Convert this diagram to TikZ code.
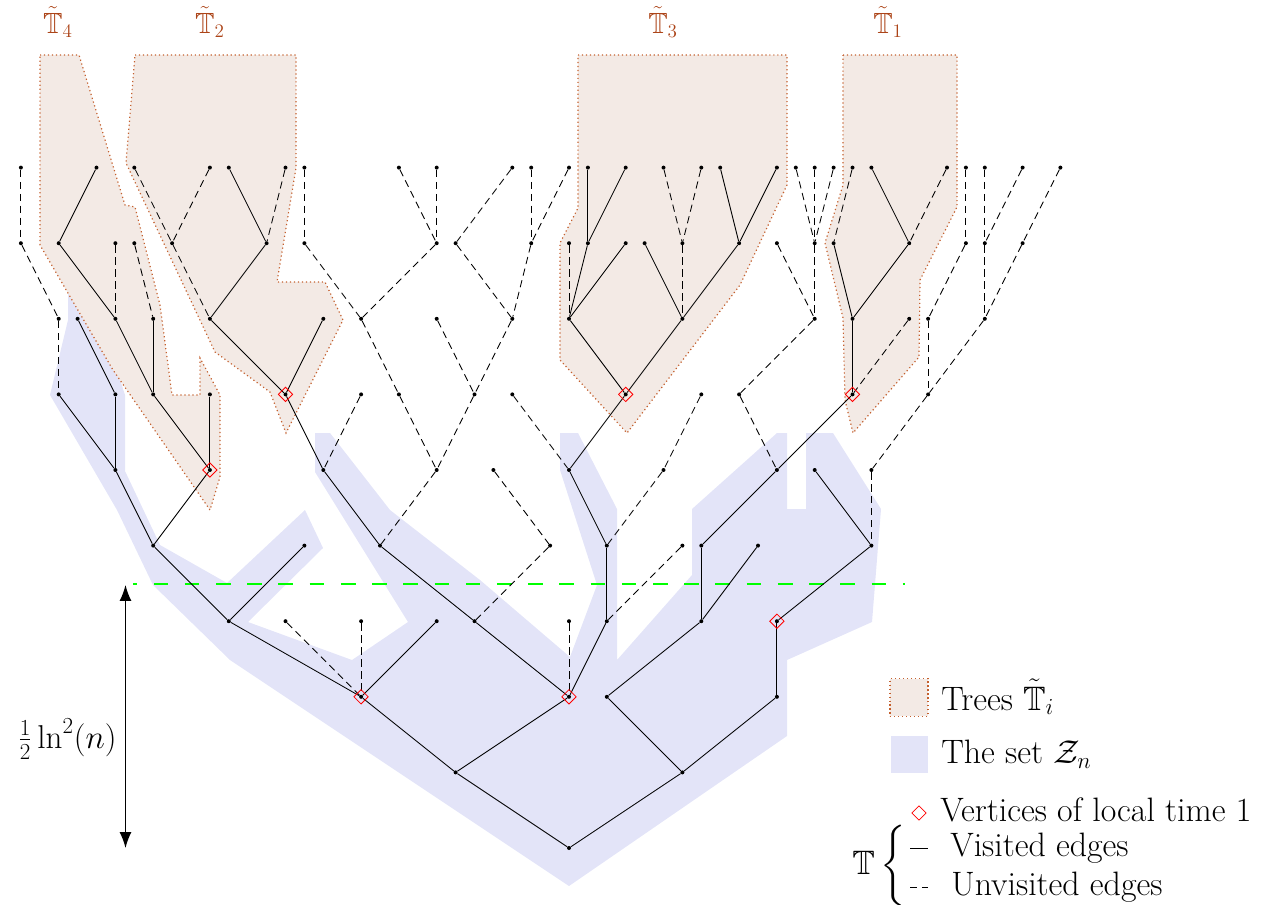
\documentclass[tikz,border=0pt]{standalone}
\usepackage{amssymb}
\usetikzlibrary{arrows.meta, shapes.geometric}
\definecolor{treeline}{RGB}{196,96,46}
\definecolor{treefill}{RGB}{243,234,229}
\definecolor{treetext}{RGB}{172,68,24}
\definecolor{zfill}{RGB}{227,228,248}
\tikzset{
    vx/.style={circle, fill, inner sep=0pt, minimum size=3pt}, % vertices of the tree
    once/.style={diamond, draw=red, inner sep=0pt, minimum size=11pt, line width=0.6pt}, % local time 1
    seen/.style={line width=0.65pt},
    unseen/.style={line width=0.65pt, dash pattern=on 5.5pt off 3.5pt},
    subtree/.style={fill=treefill, draw=treeline, line width=0.9pt, dash pattern=on 0.9pt off 2.1pt},
    zset/.style={fill=zfill},
    cut/.style={green, line width=0.9pt, dash pattern=on 11pt off 12.5pt, dash phase=8pt},
    tname/.style={text=treetext, font=\fontsize{22}{26}\selectfont, anchor=base},
    legend/.style={font=\fontsize{25.5}{30}\selectfont, anchor=base west, inner sep=0pt}
}

\begin{document}
\begin{tikzpicture}[x=0.0264583cm, y=-0.0264583cm]
    \useasboundingbox (0,0) rectangle (1270,904);

    % the set Z_n
    \fill[zset] (569,886) -- (787,736) -- (787,660) -- (872,622) -- (881,509) -- (833,433)
        -- (806,433) -- (806,509) -- (787,509) -- (787,433) -- (777,433) -- (692,509)
        -- (692,575) -- (617,660) -- (617,509) -- (578,433) -- (560,433) -- (560,470)
        -- (597,585) -- (570,657) -- (480,580) -- (390,510) -- (330,433) -- (315,433)
        -- (315,472) -- (408,622) -- (352,660) -- (248,622) -- (323,548) -- (305,510)
        -- (227,583) -- (160,545) -- (125,471) -- (125,395) -- (85,270) -- (68,270)
        -- (68,320) -- (50,395) -- (117,510) -- (153,585) -- (230,660) -- cycle;

    % the trees T_i
    \draw[subtree] (40,55) -- (79,55) -- (125,205) -- (135,207) -- (160,305) -- (172,395)
        -- (200,395) -- (200,358) -- (220,395) -- (220,477) -- (210,510) -- (113,370)
        -- (72,300) -- (40,245) -- cycle;
    \draw[subtree] (135,55) -- (296,55) -- (296,168) -- (277,282) -- (325,282) -- (343,320)
        -- (286,433) -- (270,392) -- (215,352) -- (126,163) -- cycle;
    \draw[subtree] (578,55) -- (787,55) -- (787,185) -- (740,285) -- (627,433) -- (560,360)
        -- (560,243) -- (578,208) -- cycle;
    \draw[subtree] (843,55) -- (957,55) -- (957,207) -- (920,280) -- (919,357) -- (853,433)
        -- (845,400) -- (843,318) -- (825,243) -- (843,185) -- cycle;

    \node[tname] (lab4) at (58,33) {$\tilde{\mathbb{T}}_4$};
    \node[tname] (lab2) at (210,33) {$\tilde{\mathbb{T}}_2$};
    \node[tname] (lab3) at (663,33) {$\tilde{\mathbb{T}}_3$};
    \node[tname] (lab1) at (888,33) {$\tilde{\mathbb{T}}_1$};

    \coordinate (cutl) at (133,584);
    \coordinate (cutr) at (905,584);
    \draw[cut] (cutl) -- (cutr);

    % vertices, level by level
    \foreach \l/\us in {0/{0}, 1/{-6,6}, 2/{-11,0,2,11},
        3/{-18,-15,-11,-7,-5,0,2,7,11},
        4/{-22,-14,-10,-1,2,6,7,10,16},
        5/{-24,-19,-13,-7,-4,0,5,11,13,16},
        6/{-27,-24,-22,-19,-15,-11,-9,-5,-3,3,7,9,15,19},
        7/{-27,-26,-24,-22,-19,-13,-11,-7,-3,0,6,13,15,18,19,22},
        8/{-29,-27,-24,-23,-21,-16,-14,-7,-6,-2,0,1,3,4,6,9,11,13,14,18,21,22,24},
        9/{-29,-25,-23,-19,-18,-15,-14,-9,-7,-3,-2,0,1,3,5,7,8,11,12,13,14,15,16,20,21,22,24,26}}
        \foreach \u in \us
            \node[vx] (v\l x\u) at ({569+18.9*\u},{848-75.6*\l}) {};

    % visited edges
    \foreach \a/\b in {1x-6/0x0, 1x6/0x0, 2x-11/1x-6, 2x0/1x-6, 2x2/1x6, 2x11/1x6,
        3x-18/2x-11, 3x-7/2x-11, 3x-5/2x0, 3x2/2x0, 3x7/2x2, 3x11/2x11,
        4x-22/3x-18, 4x-14/3x-18, 4x-10/3x-5, 4x2/3x2, 4x7/3x7, 4x10/3x7, 4x16/3x11,
        5x-24/4x-22, 5x-19/4x-22, 5x-13/4x-10, 5x0/4x2, 5x11/4x7, 5x13/4x16,
        6x-27/5x-24, 6x-24/5x-24, 6x-22/5x-19, 6x-19/5x-19, 6x-15/5x-13, 6x3/5x0, 6x15/5x11,
        7x-26/6x-24, 7x-24/6x-22, 7x-22/6x-22, 7x-19/6x-15, 7x-13/6x-15, 7x0/6x3, 7x6/6x3, 7x15/6x15,
        8x-27/7x-24, 8x-16/7x-19, 8x1/7x0, 8x3/7x0, 8x4/7x6, 8x9/7x6, 8x14/7x15, 8x18/7x15,
        9x-25/8x-27, 9x-18/8x-16, 9x1/8x1, 9x3/8x1, 9x8/8x9, 9x11/8x9, 9x16/8x18}
        \draw[seen] (v\a) -- (v\b);

    % unvisited edges
    \foreach \a/\b in {3x-15/2x-11, 3x-11/2x-11, 3x0/2x0, 4x-1/3x-5, 4x6/3x2,
        5x-7/4x-10, 5x-4/4x-1, 5x5/4x2, 5x16/4x16,
        6x-11/5x-13, 6x-9/5x-7, 6x-5/5x-7, 6x-3/5x0, 6x7/5x5, 6x9/5x11, 6x19/5x16,
        7x-27/6x-27, 7x-11/6x-9, 7x-7/6x-5, 7x-3/6x-5, 7x13/6x9, 7x18/6x15, 7x19/6x19, 7x22/6x19,
        8x-29/7x-27, 8x-24/7x-24, 8x-23/7x-22, 8x-21/7x-19, 8x-14/7x-11, 8x-7/7x-11, 8x-6/7x-3,
        8x-2/7x-3, 8x0/7x0, 8x6/7x6, 8x11/7x13, 8x13/7x13, 8x21/7x19, 8x22/7x22, 8x24/7x22,
        9x-29/8x-29, 9x-23/8x-21, 9x-19/8x-21, 9x-15/8x-16, 9x-14/8x-14, 9x-9/8x-7, 9x-7/8x-7,
        9x-3/8x-6, 9x-2/8x-2, 9x0/8x-2, 9x5/8x6, 9x7/8x6, 9x12/8x13, 9x13/8x13, 9x14/8x13,
        9x15/8x14, 9x20/8x18, 9x21/8x21, 9x22/8x22, 9x24/8x22, 9x26/8x24}
        \draw[unseen] (v\a) -- (v\b);

    \foreach \a in {2x-11, 2x0, 3x11, 5x-19, 6x-15, 6x3, 6x15}
        \node[once] (d\a) at (v\a) {};

    % height of the cut
    \coordinate (htop) at (125.5,585);
    \coordinate (hbot) at (125.5,848);
    \draw[{Latex[length=12pt,width=9pt]}-{Latex[length=12pt,width=9pt]}, line width=1pt] (htop) -- (hbot);
    \node[anchor=base west, inner sep=0pt, font=\fontsize{23}{27}\selectfont] (hlab) at (18,748) {$\frac{1}{2}\ln^2(n)$};

    % legend
    \node[subtree, minimum size=28.5pt, inner sep=0pt] (ktree) at (909,697.5) {};
    \node[legend] (ttree) at (941,710) {Trees $\tilde{\mathbb{T}}_i$};
    \node[zset, minimum size=28pt, inner sep=0pt] (kz) at (909.5,754.7) {};
    \node[legend] (tz) at (941,763.3) {The set $\mathcal{Z}_n$};
    \node[once] (kone) at (919,813) {};
    \node[legend] (tone) at (940,821.7) {Vertices of local time 1};
    \node[font=\fontsize{25.5}{30}\selectfont, inner sep=0pt] (kT) at (880,866)
        {$\mathbb{T}\left\{\vrule height 20pt depth 20pt width 0pt\right.$};
    \coordinate (ks1) at (910,848.5);
    \coordinate (ks2) at (928,848.5);
    \draw[seen] (ks1) -- (ks2);
    \node[legend] (tseen) at (950,856) {Visited edges};
    \coordinate (ku1) at (910,887.5);
    \coordinate (ku2) at (928,887.5);
    \draw[unseen] (ku1) -- (ku2);
    \node[legend] (tunseen) at (951,895) {Unvisited edges};
\end{tikzpicture}
\end{document}
